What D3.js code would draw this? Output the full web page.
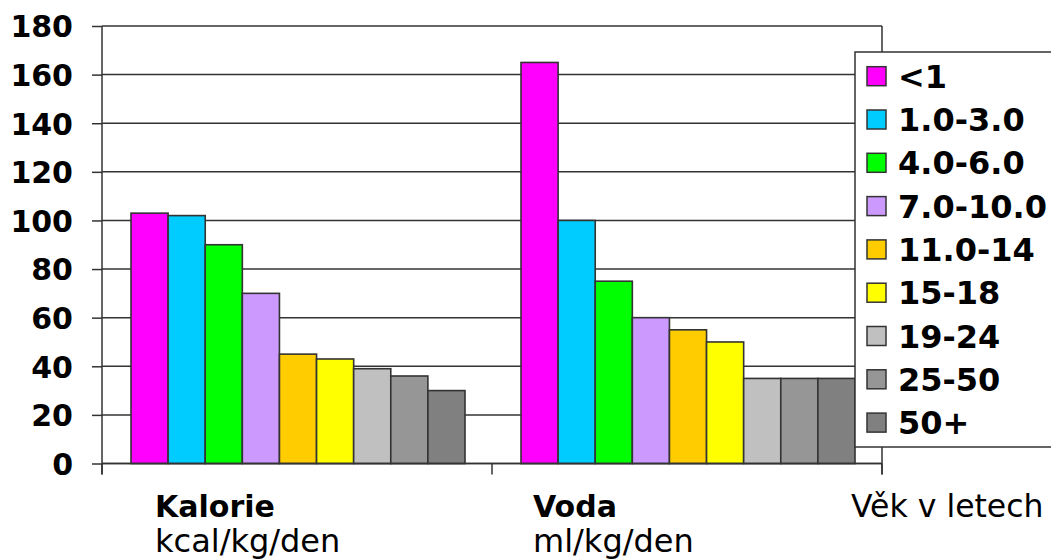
<!DOCTYPE html>
<html>
<head>
<meta charset="utf-8">
<script src="https://cdn.jsdelivr.net/npm/d3@7"></script>
<style>
  html, body { margin: 0; padding: 0; background: #fff; }
  svg { display: block; }
  text { font-family: "DejaVu Sans", Verdana, sans-serif; fill: #000; }
</style>
</head>
<body>
<svg id="chart" width="1051" height="559"></svg>
<script>
// Doporučený denní příjem energie a vody podle věku
const categories = ["Kalorie", "Voda"];
const units = ["kcal/kg/den", "ml/kg/den"];
const ageGroups = ["<1", "1.0-3.0", "4.0-6.0", "7.0-10.0", "11.0-14", "15-18", "19-24", "25-50", "50+"];
const kalorie = [103, 102, 90, 70, 45, 43, 39, 36, 30];
const voda = [165, 100, 75, 60, 55, 50, 35, 35, 35];
const colors = ["#FF00FF", "#00CCFF", "#00FF00", "#CC99FF", "#FFCC00", "#FFFF00", "#C0C0C0", "#969696", "#808080"];
const yTicks = [0, 20, 40, 60, 80, 100, 120, 140, 160, 180];
const xTitle = "Věk v letech";

const seriesByCategory = { "Kalorie": kalorie, "Voda": voda };

const svg = d3.select("#chart");
const plot = { left: 102, right: 882, top: 26, bottom: 463.5 };
const lineColor = "#333";
// odsazení popisků kategorií od začátku jejich pásma
const labelIndent = { "Kalorie": 53, "Voda": 41 };

const y = d3.scaleLinear().domain([0, 180]).range([plot.bottom, plot.top]);
const x = d3.scaleBand().domain(categories).range([plot.left, plot.right]).paddingInner(0).paddingOuter(0);
const inner = d3.scaleBand().domain(ageGroups).range([29, x.bandwidth() - 27]).padding(0);
const color = d3.scaleOrdinal().domain(ageGroups).range(colors);

// vodorovné mřížky
svg.append("g")
  .selectAll("line")
  .data(yTicks)
  .join("line")
  .attr("x1", plot.left)
  .attr("x2", plot.right)
  .attr("y1", d => y(d))
  .attr("y2", d => y(d))
  .attr("stroke", lineColor)
  .attr("stroke-width", 1.5);

// pravý okraj vykreslované oblasti
svg.append("line")
  .attr("x1", plot.right).attr("x2", plot.right)
  .attr("y1", plot.top).attr("y2", plot.bottom + 11)
  .attr("stroke", lineColor).attr("stroke-width", 1.5);

// sloupce
const groups = svg.append("g")
  .selectAll("g")
  .data(categories)
  .join("g")
  .attr("transform", d => `translate(${x(d)},0)`);

groups.selectAll("rect")
  .data(c => ageGroups.map((a, i) => ({ age: a, value: seriesByCategory[c][i] })))
  .join("rect")
  .attr("x", d => inner(d.age))
  .attr("width", inner.bandwidth())
  .attr("y", d => y(d.value))
  .attr("height", d => y(0) - y(d.value))
  .attr("fill", d => color(d.age))
  .attr("stroke", lineColor)
  .attr("stroke-width", 1.6);

// osa Y
const yAxis = d3.axisLeft(y)
  .tickValues(yTicks)
  .tickSize(10)
  .tickPadding(19)
  .tickFormat(d3.format("d"));

const yg = svg.append("g")
  .attr("transform", `translate(${plot.left},0)`)
  .call(yAxis);
yg.select(".domain").remove();
yg.selectAll(".tick line").attr("stroke", lineColor).attr("stroke-width", 1.5);
yg.selectAll(".tick text")
  .attr("font-size", 30)
  .attr("font-weight", "bold")
  .attr("dy", "0.36em")
  .style("font-family", "'DejaVu Sans', Verdana, sans-serif");

svg.append("line")
  .attr("x1", plot.left).attr("x2", plot.left)
  .attr("y1", plot.top).attr("y2", plot.bottom + 11)
  .attr("stroke", lineColor).attr("stroke-width", 1.5);

// osa X s dělicími značkami mezi kategoriemi
svg.append("line")
  .attr("x1", plot.left).attr("x2", plot.right)
  .attr("y1", plot.bottom).attr("y2", plot.bottom)
  .attr("stroke", lineColor).attr("stroke-width", 1.5);

const boundaries = categories.map(c => x(c)).concat([x(categories[categories.length - 1]) + x.bandwidth()]);
svg.append("g")
  .selectAll("line")
  .data(boundaries)
  .join("line")
  .attr("x1", d => d).attr("x2", d => d)
  .attr("y1", plot.bottom).attr("y2", plot.bottom + 11)
  .attr("stroke", lineColor).attr("stroke-width", 1.5);

// popisky kategorií
const labels = svg.append("g")
  .selectAll("g")
  .data(categories)
  .join("g")
  .attr("transform", d => `translate(${x(d) + labelIndent[d]},0)`);

labels.append("text")
  .attr("y", 517)
  .attr("font-size", 30)
  .attr("font-weight", "bold")
  .text(d => d);

labels.append("text")
  .attr("y", 552)
  .attr("font-size", 32)
  .text((d, i) => units[i]);

svg.append("text")
  .attr("x", 851)
  .attr("y", 517)
  .attr("font-size", 31.5)
  .text(xTitle);

// legenda
const legend = svg.append("g").attr("transform", "translate(855,52)");
legend.append("rect")
  .attr("x", 0).attr("y", 0)
  .attr("width", 220).attr("height", 395)
  .attr("fill", "#fff")
  .attr("stroke", lineColor)
  .attr("stroke-width", 1.5);

const rowY = d3.scalePoint().domain(ageGroups).range([24.2, 370.6]);
const items = legend.selectAll("g.item")
  .data(ageGroups)
  .join("g")
  .attr("class", "item")
  .attr("transform", d => `translate(0,${rowY(d)})`);

items.append("rect")
  .attr("x", 12).attr("y", -9.5)
  .attr("width", 19).attr("height", 19)
  .attr("fill", d => color(d))
  .attr("stroke", lineColor)
  .attr("stroke-width", 1.5);

items.append("text")
  .attr("x", 43)
  .attr("y", 11.5)
  .attr("font-size", 32)
  .attr("font-weight", "bold")
  .text(d => d);
</script>
</body>
</html>
